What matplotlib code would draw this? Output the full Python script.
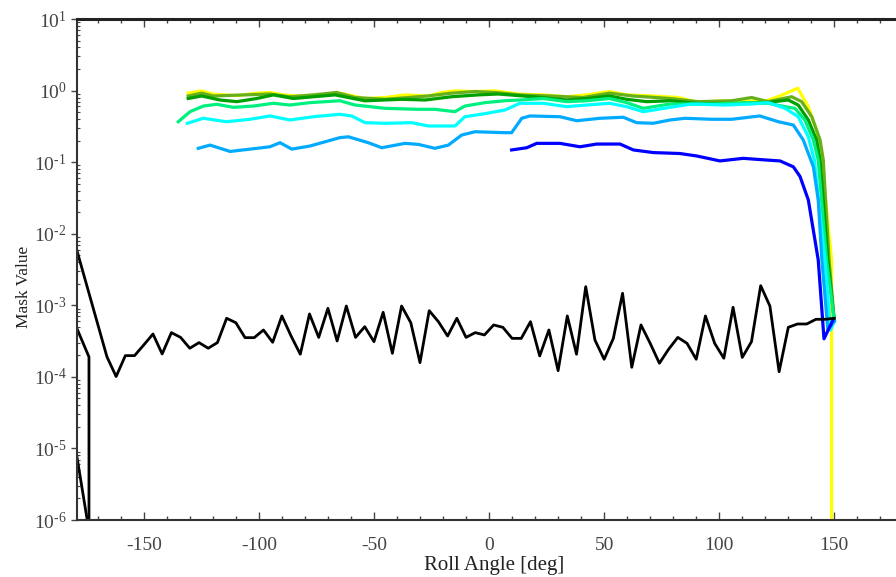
import matplotlib

matplotlib.use("Agg")
import matplotlib.pyplot as plt
from matplotlib.ticker import FixedLocator, LogLocator, MultipleLocator, NullFormatter

plt.rcParams["font.family"] = ["Liberation Serif", "DejaVu Serif"]
plt.rcParams["mathtext.fontset"] = "custom"
plt.rcParams["mathtext.rm"] = "Liberation Serif"
plt.rcParams["axes.unicode_minus"] = False

X_TICKS = [-150, -100, -50, 0, 50, 100, 150]
Y_TICKS = [1e-6, 1e-5, 1e-4, 1e-3, 1e-2, 1e-1, 1e0, 1e1]
Y_TICK_LABELS = [r"$\mathdefault{10^{\text{-}6}}$", r"$\mathdefault{10^{\text{-}5}}$",
                 r"$\mathdefault{10^{\text{-}4}}$", r"$\mathdefault{10^{\text{-}3}}$",
                 r"$\mathdefault{10^{\text{-}2}}$", r"$\mathdefault{10^{\text{-}1}}$",
                 r"$\mathdefault{10^{0}}$", r"$\mathdefault{10^{1}}$"]

# roll angle [deg] / mask value
yellow_x = [-130.7, -124.8, -119.8, -109.6, -100.9, -95.2, -89.4, -83.6, -73.4, -64.8,
            -61.1, -53.9, -45.2, -36.5, -26.4, -20.6, -14.8, -6.1, 2.5, 13.4, 23.6, 33.7, 42.4,
            52.3, 59.8, 68.5, 82.2, 90.9, 99.6, 119.9, 125.6, 134.1, 138.7, 142.3, 144.5, 148.8, 150.0]
yellow_y = [0.92, 0.99, 0.89, 0.85, 0.92, 0.94, 0.87, 0.84, 0.87, 0.92,
            0.87, 0.775, 0.80, 0.87, 0.84, 0.94, 0.99, 0.97, 0.99, 0.89, 0.87, 0.82, 0.87,
            0.97, 0.87, 0.85, 0.80, 0.685, 0.714, 0.714, 0.82, 1.08, 0.596, 0.281, 0.107, 0.0043, 0.0]

olive_x = [-130.7, -124.8, -119.8, -95.2, -86.5, -76.4, -66.2, -58.2, -45.2, -26.6, -16.3, -6.1,
           2.6, 13.4, 26.5, 40.8, 52.3, 62.5, 78.6, 90.8, 105.4, 114.1, 121.2, 131.5, 135.8,
           140.2, 143.8, 145.2, 147.7, 150.0]
olive_y = [0.84, 0.92, 0.84, 0.895, 0.82, 0.87, 0.94, 0.80, 0.755, 0.84, 0.92, 0.97,
           0.94, 0.87, 0.84, 0.80, 0.92, 0.84, 0.775, 0.70, 0.72, 0.80, 0.70, 0.82, 0.70,
           0.431, 0.204, 0.107, 0.0043, 6.0e-4]

green_x = [-130.7, -124.8, -116.9, -109.6, -100.9, -93.7, -85.0, -66.9, -53.9, -37.9, -27.8,
           -16.3, -4.7, 4.0, 19.1, 33.7, 42.4, 52.3, 59.8, 68.5, 78.6, 90.8, 105.4, 119.9,
           130.0, 134.3, 138.7, 142.3, 143.8, 147.2, 150.0]
green_y = [0.775, 0.84, 0.738, 0.70, 0.775, 0.87, 0.775, 0.87, 0.72, 0.755, 0.738,
           0.82, 0.87, 0.895, 0.82, 0.738, 0.775, 0.84, 0.755, 0.70, 0.72, 0.66, 0.66, 0.678,
           0.738, 0.628, 0.388, 0.204, 0.107, 0.0043, 6.0e-4]

spring_x = [-135.0, -129.9, -124.1, -118.3, -111.1, -102.4, -93.7, -86.5, -77.8, -64.8, -58.2,
            -45.2, -30.7, -23.5, -14.8, -10.5, -1.8, 6.9, 13.4, 23.6, 33.7, 42.4, 52.3, 59.8,
            67.0, 78.6, 98.2, 112.6, 121.3, 128.6, 132.9, 137.2, 140.9, 143.0, 146.6, 150.0]
spring_y = [0.367, 0.507, 0.608, 0.643, 0.583, 0.608, 0.664, 0.628, 0.678, 0.721, 0.628,
            0.565, 0.547, 0.547, 0.507, 0.608, 0.678, 0.721, 0.738, 0.775, 0.70, 0.721, 0.775, 0.678,
            0.565, 0.649, 0.649, 0.678, 0.664, 0.596, 0.565, 0.388, 0.204, 0.107, 0.0043, 6.0e-4]

cyan_x = [-131.1, -124.1, -114.0, -103.8, -95.2, -86.5, -76.4, -64.8, -59.7, -53.9, -45.2,
          -33.6, -26.4, -14.8, -10.5, -1.8, 6.9, 13.4, 23.6, 33.7, 42.4, 52.3, 59.8, 67.0,
          78.6, 88.0, 102.5, 114.1, 121.3, 128.6, 134.3, 138.7, 141.3, 145.9, 148.3, 150.0]
cyan_y = [0.349, 0.41, 0.367, 0.397, 0.442, 0.388, 0.431, 0.466, 0.442, 0.356, 0.349,
          0.356, 0.32, 0.32, 0.431, 0.476, 0.535, 0.664, 0.664, 0.596, 0.628, 0.664, 0.596, 0.507,
          0.583, 0.649, 0.628, 0.649, 0.678, 0.565, 0.431, 0.226, 0.107, 0.0043, 4.5e-4, 6.0e-4]

sky_x = [-126.3, -121.2, -112.5, -103.8, -95.2, -90.8, -85.7, -77.8, -64.8, -61.1, -52.5,
         -46.6, -36.5, -30.7, -23.5, -17.7, -11.9, -6.1, 6.9, 9.8, 14.2, 17.8, 30.8, 38.1,
         48.2, 58.3, 64.1, 71.3, 78.6, 85.1, 96.7, 105.4, 117.6, 125.7, 132.2, 136.5, 140.9,
         143.0, 144.6, 147.2, 150.0]
sky_y = [0.156, 0.173, 0.141, 0.152, 0.164, 0.187, 0.152, 0.168, 0.22, 0.226, 0.187,
         0.159, 0.183, 0.177, 0.156, 0.173, 0.239, 0.266, 0.258, 0.258, 0.41, 0.442, 0.431, 0.379,
         0.41, 0.424, 0.356, 0.349, 0.388, 0.41, 0.397, 0.397, 0.442, 0.367, 0.33, 0.204, 0.086,
         0.0296, 0.0043, 4.5e-4, 6.0e-4]

blue_x = [9.8, 16.4, 20.7, 30.8, 39.5, 46.8, 56.9, 62.7, 71.4, 82.9, 90.2, 100.3, 110.4,
          120.6, 126.4, 132.2, 135.1, 138.7, 143.0, 145.5, 149.4]
blue_y = [0.148, 0.159, 0.183, 0.183, 0.164, 0.179, 0.179, 0.148, 0.136, 0.132, 0.122, 0.104, 0.113,
          0.107, 0.104, 0.086, 0.063, 0.0296, 0.0043, 3.4e-4, 6.2e-4]

black_x = [-180, -166, -162, -158, -154, -150, -146, -142, -138, -134, -130, -126, -122, -118,
           -114, -110, -106, -102, -98, -94, -90, -86, -82, -78, -74, -70, -66, -62, -58, -54,
           -50, -46, -42, -38, -34, -30, -26, -22, -18, -14, -10, -6, -2, 2, 6, 10, 14, 18, 22,
           26, 30, 34, 38, 42, 46, 50, 54, 58, 62, 66, 70, 74, 78, 82, 86, 90, 94, 98, 102, 106,
           110, 114, 118, 122, 126, 130, 134, 138, 142, 146, 150]
black_y = [7.5e-3, 1.91e-4, 1.01e-4, 1.98e-4, 1.98e-4, 2.79e-4, 3.97e-4, 2.09e-4, 4.15e-4,
           3.56e-4, 2.51e-4, 3.01e-4, 2.51e-4, 3.01e-4, 6.58e-4, 5.71e-4, 3.53e-4, 3.53e-4,
           4.52e-4, 3.04e-4, 7.10e-4, 3.72e-4, 2.07e-4, 7.57e-4, 3.56e-4, 9.08e-4, 3.17e-4,
           9.77e-4, 3.56e-4, 5.02e-4, 3.10e-4, 7.98e-4, 2.13e-4, 9.77e-4, 5.71e-4, 1.58e-4,
           8.41e-4, 5.90e-4, 3.72e-4, 6.58e-4, 3.56e-4, 4.15e-4, 3.85e-4, 5.31e-4, 4.92e-4,
           3.45e-4, 3.45e-4, 5.90e-4, 1.96e-4, 4.52e-4, 1.22e-4, 7.10e-4, 2.07e-4, 1.82e-3,
           3.27e-4, 1.76e-4, 3.45e-4, 1.47e-3, 1.36e-4, 5.31e-4, 2.94e-4, 1.55e-4, 2.43e-4,
           3.56e-4, 2.94e-4, 1.76e-4, 7.10e-4, 2.94e-4, 1.82e-4, 9.38e-4, 1.87e-4, 3.10e-4,
           1.88e-3, 9.77e-4, 1.18e-4, 4.92e-4, 5.48e-4, 5.48e-4, 6.37e-4, 6.37e-4, 6.58e-4]

# two short black traces at the left edge that fall to zero
edge1_x = [-180.0, -173.8, -173.8]
edge1_y = [5.6e-4, 1.9e-4, 0.0]
edge2_x = [-180.0, -174.2, -174.2]
edge2_y = [1.19e-5, 8.5e-7, 0.0]

series = [
    (yellow_x, yellow_y, "#ffff00"),
    (olive_x, olive_y, "#66b01c"),
    (green_x, green_y, "#00a000"),
    (spring_x, spring_y, "#00f080"),
    (cyan_x, cyan_y, "#00ffff"),
    (sky_x, sky_y, "#00aaff"),
    (blue_x, blue_y, "#0000ff"),
]

fig = plt.figure(figsize=(8.96, 5.77), dpi=100)
fig.patch.set_facecolor("white")
ax = fig.add_axes([77 / 896, 57 / 577, 826.4 / 896, 501 / 577])
ax.set_yscale("log")

for xs, ys, color in series:
    ax.plot(xs, ys, color=color, linewidth=2.3)
ax.plot(black_x, black_y, color="black", linewidth=2.0)
ax.plot(edge1_x, edge1_y, color="black", linewidth=2.0)
ax.plot(edge2_x, edge2_y, color="black", linewidth=2.0)

ax.set_xlim(-179, 180)
ax.set_ylim(1e-6, 1e1)

ax.xaxis.set_major_locator(FixedLocator(X_TICKS))
ax.xaxis.set_minor_locator(MultipleLocator(10))
ax.set_yticks(Y_TICKS, Y_TICK_LABELS)
ax.yaxis.set_minor_locator(LogLocator(base=10, subs=range(2, 10), numticks=20))
ax.yaxis.set_minor_formatter(NullFormatter())

ax.tick_params(axis="x", which="major", direction="in", length=6, width=1.0, top=True,
               colors="#444444", labelsize=14, pad=12)
ax.tick_params(axis="x", which="minor", direction="in", length=3.2, width=1.0, top=True,
               colors="#444444")
ax.tick_params(axis="y", which="major", direction="out", length=4.5, width=1.0,
               colors="#444444", labelsize=14, pad=3)
ax.tick_params(axis="y", which="minor", direction="in", length=2, width=0.8, colors="#444444")
ax.tick_params(right=False, which="both")

for side in ("left", "bottom"):
    ax.spines[side].set_color("#333333")
    ax.spines[side].set_linewidth(1.5)
ax.spines["top"].set_color("#222222")
ax.spines["top"].set_linewidth(2.2)
ax.spines["right"].set_visible(False)

ax.set_xlabel("Roll Angle [deg]", fontsize=15, color="#222222")
ax.set_ylabel("Mask Value", fontsize=12.5, color="#222222")
ax.xaxis.set_label_coords(0.5046, -0.072)
ax.yaxis.set_label_coords(-0.055, 0.465)

fig.savefig("out.png", dpi=100, facecolor="white")
